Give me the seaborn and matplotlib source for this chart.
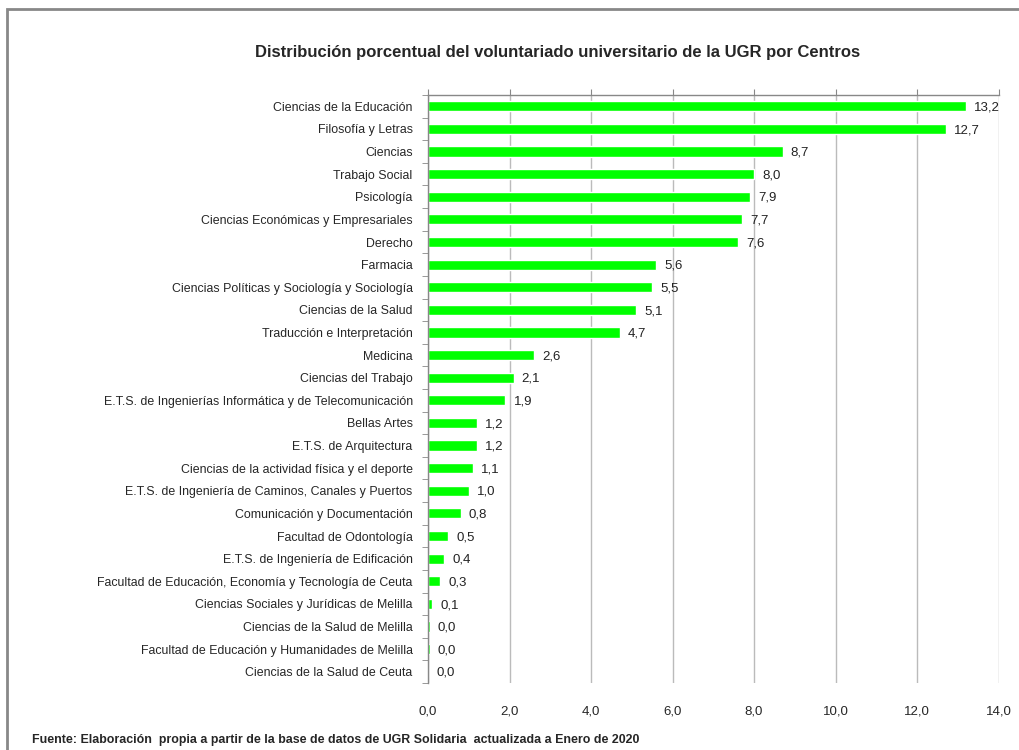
import numpy as np
import pandas as pd
import matplotlib
matplotlib.use("Agg")
import matplotlib.pyplot as plt
import seaborn as sns

# Data (% of volunteers per centre)
centros = [
    "Ciencias de la Educación",
    "Filosofía y Letras",
    "Ciencias",
    "Trabajo Social",
    "Psicología",
    "Ciencias Económicas y Empresariales",
    "Derecho",
    "Farmacia",
    "Ciencias Políticas y Sociología y Sociología",
    "Ciencias de la Salud",
    "Traducción e Interpretación",
    "Medicina",
    "Ciencias del Trabajo",
    "E.T.S. de Ingenierías Informática y de Telecomunicación",
    "Bellas Artes",
    "E.T.S. de Arquitectura",
    "Ciencias de la actividad física y el deporte",
    "E.T.S. de Ingeniería de Caminos, Canales y Puertos",
    "Comunicación y Documentación",
    "Facultad de Odontología",
    "E.T.S. de Ingeniería de Edificación",
    "Facultad de Educación, Economía y Tecnología de Ceuta",
    "Ciencias Sociales y Jurídicas de Melilla",
    "Ciencias de la Salud de Melilla",
    "Facultad de Educación y Humanidades de Melilla",
    "Ciencias de la Salud de Ceuta",
]
porcentajes = [13.2, 12.7, 8.7, 8.0, 7.9, 7.7, 7.6, 5.6, 5.5, 5.1, 4.7, 2.6, 2.1,
               1.9, 1.2, 1.2, 1.1, 1.0, 0.8, 0.5, 0.4, 0.3, 0.1, 0.04, 0.04, 0.0]
x_ticks = [0, 2, 4, 6, 8, 10, 12, 14]

titulo = "Distribución porcentual del voluntariado universitario de la UGR por Centros"
fuente = ("Fuente: Elaboración  propia a partir de la base de datos de UGR Solidaria  "
          "actualizada a Enero de 2020")

df = pd.DataFrame({"Centro": centros, "Porcentaje": porcentajes})

sns.set_style("white")
plt.rcParams["font.family"] = ["Liberation Sans", "DejaVu Sans"]

fig = plt.figure(figsize=(10.19, 7.5), dpi=100)
ax = fig.add_axes([0.42, 0.0893, 0.560, 0.784])

sns.barplot(data=df, x="Porcentaje", y="Centro", orient="h", color="#00FF00",
            saturation=1, width=0.45, ax=ax)

# value labels with comma decimals
for i, v in enumerate(porcentajes):
    ax.text(v + 0.2, i + 0.05, f"{v:.1f}".replace(".", ","), va="center", ha="left",
            fontsize=9.5, color="#222222")

ax.set_xlim(0, 14)
ax.set_ylim(len(centros) - 0.5, -0.5)
ax.set_xticks(x_ticks)
ax.set_xticklabels([f"{t:.1f}".replace(".", ",") for t in x_ticks], fontsize=9.5)
ax.set_xlabel("")
ax.set_ylabel("")
ax.tick_params(axis="x", top=True, bottom=False, labeltop=False, labelbottom=True,
               direction="out", length=4, color="#888888", pad=12)
ax.set_yticks(np.arange(-0.5, len(centros), 1), minor=True)
ax.tick_params(axis="y", which="major", length=0, labelsize=8.9, pad=11)
ax.tick_params(axis="y", which="minor", length=4, color="#888888", left=True)

ax.grid(axis="x", color="#bbbbbb", linewidth=1)
ax.set_axisbelow(True)
for s in ["right", "bottom"]:
    ax.spines[s].set_visible(False)
for s in ["top", "left"]:
    ax.spines[s].set_color("#888888")
    ax.spines[s].set_linewidth(1)

fig.text(0.547, 0.930, titulo, ha="center", va="center", fontsize=12,
         fontweight="bold")
fig.text(0.031, 0.013, fuente, ha="left", va="center", fontsize=8.9,
         fontweight="bold")

# grey frame around the chart (cut off at right/bottom like the reference)
frame = plt.Rectangle((0.007, -0.1), 1.1, 1.088, transform=fig.transFigure,
                      fill=False, edgecolor="#888888", linewidth=2)
fig.patches.append(frame)

fig.savefig("out.png", dpi=100)
